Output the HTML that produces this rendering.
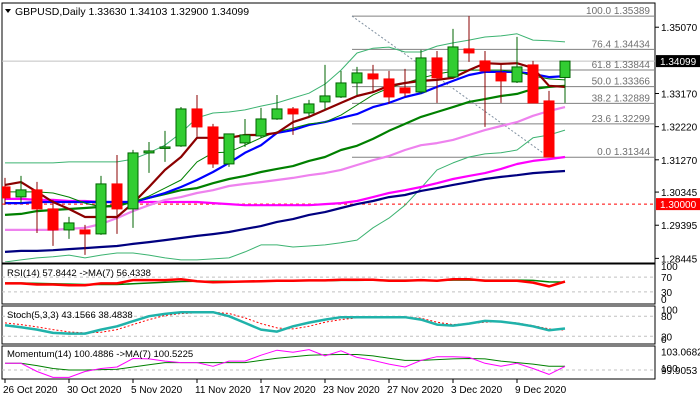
<!DOCTYPE html>
<html><head><meta charset="utf-8">
<style>
html,body{margin:0;padding:0;background:#fff;}
svg{display:block;font-family:"Liberation Sans",sans-serif;}
</style></head>
<body>
<svg id="chart" width="700" height="400" viewBox="0 0 700 400" xmlns="http://www.w3.org/2000/svg"></svg>
<script>
// ---------- DATA ----------
const dates = ["26 Oct 2020","30 Oct 2020","5 Nov 2020","11 Nov 2020","17 Nov 2020","23 Nov 2020","27 Nov 2020","3 Dec 2020","9 Dec 2020"];
const dateIdx = [0,4,8,12,16,20,24,28,32];
const opens = [1.30493,1.30207,1.30408,1.29863,1.29260,1.29260,1.29146,1.30579,1.29863,1.31467,1.31610,1.31668,1.32728,1.32212,1.31152,1.31754,1.31954,1.32441,1.32728,1.32613,1.32929,1.33072,1.33473,1.33731,1.33588,1.33330,1.33215,1.34190,1.33645,1.34448,1.34104,1.33760,1.33502,1.33989,1.32957,1.33630];
const highs = [1.30751,1.30808,1.30636,1.30120,1.29633,1.29404,1.30808,1.31409,1.31553,1.31782,1.32098,1.32785,1.33129,1.32298,1.32012,1.32441,1.32757,1.33129,1.32785,1.32986,1.33989,1.33817,1.33932,1.33989,1.33817,1.33875,1.34419,1.34390,1.35021,1.35389,1.34390,1.34018,1.34792,1.34104,1.33244,1.34103];
const lows = [1.29977,1.30034,1.29174,1.28802,1.29003,1.28544,1.29117,1.29146,1.29318,1.30894,1.31209,1.31639,1.31926,1.31037,1.31066,1.31639,1.31897,1.32413,1.31983,1.32499,1.32699,1.33043,1.33129,1.33244,1.32871,1.33072,1.33158,1.32900,1.33617,1.34075,1.32212,1.32900,1.33473,1.32900,1.31344,1.32900];
const closes = [1.30178,1.30408,1.29863,1.29260,1.29461,1.29146,1.30579,1.29863,1.31467,1.31524,1.31639,1.32728,1.32212,1.31152,1.32012,1.31983,1.32441,1.32728,1.32585,1.32871,1.33101,1.33473,1.33760,1.33588,1.33072,1.33187,1.34190,1.33617,1.34505,1.34333,1.33817,1.33531,1.33932,1.32900,1.31352,1.34099];

const maDarkRed = [1.3055,1.3063,1.3035,1.3006,1.2986,1.2963,1.2963,1.2963,1.3003,1.3049,1.3098,1.3135,1.3190,1.3190,1.3190,1.3198,1.3198,1.3204,1.3235,1.3250,1.3270,1.3290,1.3310,1.3321,1.3339,1.3347,1.3353,1.3356,1.3362,1.3384,1.3404,1.3402,1.3404,1.3390,1.3339,1.3336];
const maBlue = [1.3003,1.3003,1.3006,1.3006,1.3006,1.3006,1.3006,1.3006,1.3006,1.3018,1.3032,1.3049,1.3069,1.3092,1.3118,1.3147,1.3169,1.3204,1.3212,1.3227,1.3235,1.3247,1.3258,1.3278,1.3290,1.3307,1.3318,1.3336,1.3353,1.3370,1.3379,1.3379,1.3379,1.3373,1.3364,1.3367];
const maGreen = [1.2969,1.2972,1.2980,1.2983,1.2986,1.2989,1.2992,1.2997,1.3006,1.3018,1.3029,1.3040,1.3046,1.3060,1.3072,1.3081,1.3092,1.3101,1.3109,1.3124,1.3135,1.3155,1.3167,1.3187,1.3210,1.3230,1.3250,1.3264,1.3278,1.3293,1.3301,1.3310,1.3316,1.3330,1.3336,1.3339];
const maViolet = [1.2926,1.2926,1.2926,1.2926,1.2929,1.2932,1.2943,1.2960,1.2980,1.2997,1.3012,1.3020,1.3032,1.3040,1.3052,1.3058,1.3063,1.3069,1.3075,1.3083,1.3089,1.3098,1.3112,1.3126,1.3138,1.3155,1.3169,1.3175,1.3184,1.3198,1.3212,1.3224,1.3235,1.3253,1.3267,1.3278];
const maMagenta = [1.3015,1.3015,1.3012,1.3012,1.3009,1.3009,1.3006,1.3006,1.3006,1.3006,1.3006,1.3006,1.3006,1.3003,1.3000,1.2997,1.2997,1.2997,1.2997,1.2997,1.3000,1.3003,1.3009,1.3020,1.3032,1.3040,1.3049,1.3060,1.3072,1.3081,1.3089,1.3101,1.3115,1.3124,1.3129,1.3135];
const maNavy = [1.2863,1.2866,1.2866,1.2868,1.2871,1.2874,1.2877,1.2880,1.2886,1.2891,1.2897,1.2903,1.2909,1.2914,1.2920,1.2929,1.2937,1.2949,1.2957,1.2969,1.2977,1.2989,1.3000,1.3009,1.3020,1.3026,1.3038,1.3046,1.3055,1.3063,1.3072,1.3078,1.3083,1.3089,1.3092,1.3095];
const bbUpper = [1.3118,1.3118,1.3118,1.3118,1.3121,1.3121,1.3121,1.3121,1.3129,1.3147,1.3169,1.3204,1.3247,1.3261,1.3264,1.3270,1.3281,1.3290,1.3304,1.3318,1.3344,1.3384,1.3433,1.3447,1.3450,1.3436,1.3436,1.3453,1.3462,1.3470,1.3479,1.3482,1.3488,1.3470,1.3468,1.3465];
const bbMiddle = [1.3035,1.3035,1.3035,1.3032,1.3020,1.3003,1.2992,1.2992,1.3006,1.3023,1.3046,1.3069,1.3121,1.3147,1.3149,1.3169,1.3190,1.3207,1.3218,1.3230,1.3235,1.3255,1.3284,1.3313,1.3333,1.3347,1.3361,1.3373,1.3381,1.3384,1.3384,1.3384,1.3379,1.3367,1.3359,1.3356];
const bbLower = [1.2834,1.2840,1.2846,1.2849,1.2854,1.2846,1.2854,1.2860,1.2860,1.2854,1.2846,1.2840,1.2840,1.2843,1.2846,1.2863,1.2883,1.2883,1.2877,1.2880,1.2883,1.2889,1.2897,1.2932,1.2960,1.2997,1.3046,1.3098,1.3118,1.3135,1.3144,1.3147,1.3155,1.3190,1.3198,1.3212];

const priceTicks = [1.35070,1.33170,1.32220,1.31270,1.30345,1.29395,1.28445];
const fibLevels = [100.0,76.4,61.8,50.0,38.2,23.6,0.0];
const fibPrices = [1.35389,1.34434,1.33844,1.33366,1.32889,1.32299,1.31344];
const lastPrice = 1.34099;
const levelPrice = 1.30000;

const rsi = [53,53,50,50,48,48,53,53,62,62,62,64,59,56,57,58,59,60,60,61,61,63,63,63,60,60,62,60,64,64,60,60,60,55,45,57.84];
const rsiMa = [54,54,53,52,51,50,50,50,52,54,56,58,59,59,59,59,59,60,60,60,60,61,61,62,62,62,61,61,62,62,62,62,62,61,57,56.43];
const stochK = [53,47,40,30,28,28,40,50,65,80,87,92,92,92,80,60,40,34,50,61,70,77,77,77,77,77,70,55,52,58,66,64,58,50,38,43.16];
const stochD = [60,55,48,40,33,30,32,40,55,70,82,88,90,92,88,75,58,45,42,50,62,70,75,77,77,77,74,62,55,58,62,64,60,52,42,38.48];
const mom = [100.9,100.9,99.8,99.0,99.0,99.8,100.2,100.4,101.56,101.5,101.2,101.0,101.0,100.5,101.2,101.2,102.0,102.67,102.4,102.75,101.9,102.6,101.7,101.3,100.8,100.4,101.3,101.8,101.8,101.7,100.9,100.5,100.9,100.2,99.4,100.49];
const momMa = [100.9,100.9,100.6,100.2,100.0,100.0,100.05,100.1,100.4,100.7,101.0,101.0,101.0,101.0,101.0,101.0,101.3,101.6,101.8,102.0,102.05,102.1,102.1,101.9,101.6,101.3,101.3,101.4,101.5,101.55,101.5,101.2,101.0,100.8,100.5,100.52];

// ---------- SCALES ----------
const NS = "http://www.w3.org/2000/svg";
const svg = document.getElementById("chart");
const PR = 655;
const xOf = i => 5 + 16*i;
const yP = p => (1.3585 - p)/0.0002866;
const yRsi = v => 303 - v*0.37;
const ySto = v => 343 - v*0.335;
const yMom = v => 370 - (v-100)*7.4;

function el(tag, attrs, parent){
  const e = document.createElementNS(NS, tag);
  for (const k in attrs) e.setAttribute(k, attrs[k]);
  (parent||svg).appendChild(e);
  return e;
}
function txt(x,y,s,attrs,parent){
  const t = el("text", Object.assign({x:x,y:y,"font-size":10,fill:"#000"},attrs||{}), parent);
  t.textContent = s;
  return t;
}
function poly(vals, yf, color, w, name, dash){
  const pts = vals.map((v,i)=>xOf(i)+","+yf(v).toFixed(1)).join(" ");
  const p = el("polyline",{points:pts,fill:"none",stroke:color,"stroke-width":w,"stroke-linejoin":"round"});
  if (dash) p.setAttribute("stroke-dasharray", dash);
  
  
  return p;
}

const defs = el("defs",{});
const cp = el("clipPath",{id:"mainclip"},defs);
el("rect",{x:2,y:4,width:653,height:258},cp);

const panels = [[3,263,"main-price-panel"],[264,304,"rsi-panel"],[306,344,"stochastic-panel"],[346,379,"momentum-panel"]];
panels.forEach(p=>{
  const r = el("rect",{x:2,y:p[0],width:PR-2,height:p[1]-p[0],fill:"#fff",stroke:"#000","stroke-width":1});
  
  
});

const g = el("g",{"clip-path":"url(#mainclip)"});



el("line",{x1:2,x2:PR,y1:yP(lastPrice),y2:yP(lastPrice),stroke:"#c0c0c0","stroke-width":1},g);
const lvl = el("line",{x1:2,x2:PR,y1:yP(levelPrice),y2:yP(levelPrice),stroke:"#ff0000","stroke-width":1,"stroke-dasharray":"3,3"},g);



fibPrices.forEach((p,k)=>{
  const y = yP(p);
  const l = el("line",{x1:352,x2:PR,y1:y,y2:y,stroke:"#808080","stroke-width":1},g);
  
  
  const t = txt(650,y-2,fibLevels[k].toFixed(1)+" "+p.toFixed(5),{"text-anchor":"end",fill:"#707070","font-size":10},g);
  
  
});
const ft = el("line",{x1:352,y1:yP(fibPrices[0]),x2:xOf(34),y2:yP(fibPrices[6]),stroke:"#8090a0","stroke-width":1,"stroke-dasharray":"2,2"},g);



g.appendChild(poly(bbLower, yP, "#3cb371", 1, "bollinger-lower"));
g.appendChild(poly(bbUpper, yP, "#3cb371", 1, "bollinger-upper"));
g.appendChild(poly(maNavy, yP, "#000080", 2.2, "ma-navy"));
g.appendChild(poly(maMagenta, yP, "#ff00ff", 2.2, "ma-magenta"));
g.appendChild(poly(maViolet, yP, "#ee82ee", 2.2, "ma-violet"));
g.appendChild(poly(maGreen, yP, "#008000", 2.2, "ma-green"));
g.appendChild(poly(maBlue, yP, "#0000ff", 2.2, "ma-blue"));
g.appendChild(poly(bbMiddle, yP, "#008000", 1, "bollinger-middle"));
g.appendChild(poly(maDarkRed, yP, "#8b0000", 2.2, "ma-dark-red"));

opens.forEach((o,i)=>{
  const c = closes[i], up = c >= o, x = xOf(i);
  const wickCol = up ? "#006400" : "#8b0000";
  const w = el("line",{x1:x,x2:x,y1:yP(highs[i]),y2:yP(lows[i]),stroke:wickCol,"stroke-width":1},g);
  
  
  const top = yP(Math.max(o,c)), bot = yP(Math.min(o,c));
  const b = el("rect",{x:x-5,y:top,width:10,height:Math.max(1.5,bot-top),fill:up?"#32cd32":"#ff0000",stroke:up?"#006400":"#ff0000","stroke-width":1},g);
  
  
});

priceTicks.forEach(p=>{
  const y = yP(p);
  el("line",{x1:PR,x2:PR+4,y1:y,y2:y,stroke:"#000"});
  const t = txt(661,y+4,p.toFixed(5));
  
  
});
[[lastPrice,"#000","#fff","last-price-tag"],[levelPrice,"#ff0000","#fff","level-price-tag"]].forEach(a=>{
  const y = yP(a[0]);
  el("rect",{x:656,y:y-6,width:44,height:12,fill:a[1]});
  const t = txt(660,y+4,a[0].toFixed(5),{fill:a[2]});
  
  
});

el("path",{d:"M5 9 L11 9 L8 13 Z",fill:"#000"});
const title = txt(15,15,"GBPUSD,Daily  1.33630 1.34103 1.32900 1.34099",{"font-size":10.5});



function hgrid(y){ el("line",{x1:2,x2:PR,y1:y,y2:y,stroke:"#c0c0c0","stroke-width":1,"stroke-dasharray":"3,3"}); }
hgrid(yRsi(70)); hgrid(yRsi(30));
hgrid(ySto(80)); hgrid(ySto(20));
hgrid(yMom(100));
[["100",yRsi(100)+4],["70",yRsi(70)+4],["30",yRsi(30)+4],["0",yRsi(0)]].forEach(a=>{const t=txt(661,a[1],a[0]);});
[["100",ySto(100)+4],["80",ySto(80)+4],["20",ySto(20)+4],["0",ySto(0)]].forEach(a=>{const t=txt(661,a[1],a[0]);});
[["103.0682",yMom(103.0682)+8],["99.9053",yMom(100)+4],["100",yMom(100)+2]].forEach(a=>{const t=txt(661,a[1],a[0]);});

poly(rsiMa, yRsi, "#008000", 1.5, "rsi-ma-line");
poly(rsi, yRsi, "#ff0000", 2.5, "rsi-line");
poly(stochD, ySto, "#ff0000", 1, "stoch-signal-line", "2,2");
poly(stochK, ySto, "#20b2aa", 2.5, "stoch-main-line");
poly(momMa, yMom, "#008000", 1, "momentum-ma-line");
poly(mom, yMom, "#ff00ff", 1, "momentum-line");

[["RSI(14) 57.8442  ->MA(7) 56.4338",276,"rsi-title"],["Stoch(5,3,3) 43.1566 38.4838",318,"stoch-title"],["Momentum(14) 100.4886  ->MA(7) 100.5225",357,"momentum-title"]].forEach(a=>{
  const t = txt(7,a[1],a[0],{"font-size":9.5});
  
  
});

dates.forEach((d,k)=>{
  const x = xOf(dateIdx[k]);
  el("line",{x1:x,x2:x,y1:379,y2:383,stroke:"#000"});
  const t = txt(x-2,393,d);
  
  
});
</script>
</body></html>
